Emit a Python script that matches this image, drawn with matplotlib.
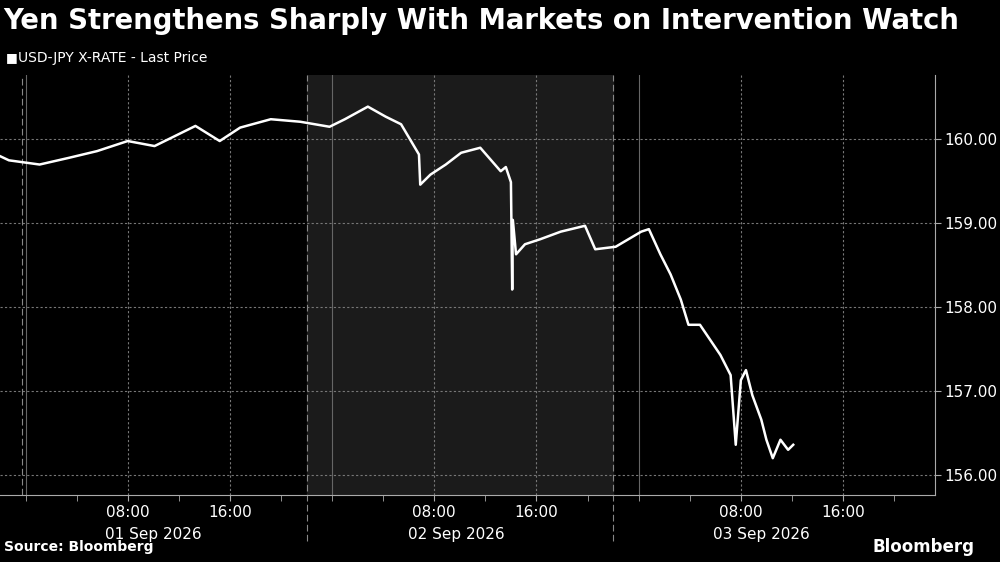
import matplotlib.pyplot as plt
import matplotlib.transforms as mtransforms

# hours since 01 Sep 2026 00:00
hours = [-2.0, -1.3, 1.1, 3.4, 5.6, 8.0, 10.1, 13.3, 15.2, 16.8, 19.2, 21.5, 23.8, 25.0, 26.8,
         28.2, 29.4, 30.1, 30.8, 30.9, 31.7, 32.9, 34.1, 35.6, 36.4, 37.2, 37.6, 38.0, 38.1,
         38.15, 38.4, 39.1, 40.3, 41.9, 43.8, 44.6, 46.2, 48.2, 48.8, 49.7, 50.5, 51.3, 51.9,
         52.8, 53.6, 54.4, 55.2, 55.6, 56.0, 56.4, 56.9, 57.6, 58.0, 58.5, 59.1, 59.7, 60.1]
price = [159.80, 159.75, 159.70, 159.78, 159.86, 159.98, 159.92, 160.16, 159.98, 160.14, 160.24,
         160.21, 160.15, 160.24, 160.39, 160.27, 160.18, 160.00, 159.82, 159.46, 159.58, 159.70,
         159.84, 159.90, 159.76, 159.62, 159.67, 159.49, 158.21, 159.04, 158.63, 158.75, 158.81,
         158.90, 158.97, 158.69, 158.72, 158.90, 158.93, 158.63, 158.39, 158.09, 157.79, 157.79,
         157.61, 157.43, 157.19, 156.36, 157.13, 157.25, 156.95, 156.66, 156.42, 156.20, 156.42,
         156.30, 156.36]

major_hours = [8, 16, 32, 40, 56, 64]
major_labels = ["08:00", "16:00"] * 3
day_labels = ["01 Sep 2026", "02 Sep 2026", "03 Sep 2026"]
day_pos = [10.0, 33.7, 57.6]
day_edges = [-0.3, 22.0, 46.0]
midnights = [0, 24, 48]
yticks = [156, 157, 158, 159, 160]

fig = plt.figure(figsize=(10, 5.62), dpi=100, facecolor="black")
ax = fig.add_axes([0.0, 0.119, 0.935, 0.748], facecolor="black")
ax.set_xlim(-2.0, 71.2)
ax.set_ylim(155.76, 160.77)

ax.axvspan(22.0, 46.0, color="#1b1b1b", zorder=0)

for y in yticks:
    ax.axhline(y, color="#777777", lw=0.8, ls=(0, (2, 2)), zorder=1)
for h in major_hours:
    ax.axvline(h, color="#777777", lw=0.8, ls=(0, (2, 2)), zorder=1)
for h in midnights:
    ax.axvline(h, color="#666666", lw=0.8, zorder=1)

trans = mtransforms.blended_transform_factory(ax.transData, ax.transAxes)
for h in day_edges[1:]:
    ax.plot([h, h], [-0.11, 1.0], transform=trans, color="#888888", lw=0.8,
            ls=(0, (6, 3)), clip_on=False, zorder=2)
ax.plot([day_edges[0]] * 2, [0, 1.0], transform=trans, color="#888888", lw=0.8,
        ls=(0, (6, 3)), zorder=2)

ax.plot(hours, price, color="white", lw=1.8, zorder=3)

ax.yaxis.tick_right()
ax.set_yticks(yticks)
ax.set_yticklabels([f"{v:.2f}" for v in yticks], color="white", fontsize=11)
ax.set_xticks(major_hours)
ax.set_xticklabels(major_labels, color="white", fontsize=11)
ax.set_xticks(list(range(0, 72, 4)), minor=True)
ax.tick_params(axis="both", which="both", color="#aaaaaa", length=4, pad=3)
for s in ["top", "left"]:
    ax.spines[s].set_visible(False)
for s in ["right", "bottom"]:
    ax.spines[s].set_color("#aaaaaa")

for lab, p in zip(day_labels, day_pos):
    ax.text(p, -0.075, lab, transform=trans, ha="center", va="top", color="white", fontsize=11)

fig.text(0.003, 0.963, "Yen Strengthens Sharply With Markets on Intervention Watch",
         color="white", fontsize=19.8, fontweight="bold", va="center", ha="left")
fig.text(0.006, 0.897, "\u25A0", color="white", fontsize=9, va="center")
fig.text(0.018, 0.897, "USD-JPY X-RATE - Last Price", color="white", fontsize=10, va="center")
fig.text(0.004, 0.027, "Source: Bloomberg", color="white", fontsize=10, fontweight="bold", va="center")
fig.text(0.975, 0.027, "Bloomberg", color="white", fontsize=12, fontweight="bold",
         va="center", ha="right")

fig.savefig("out.png", facecolor="black")
